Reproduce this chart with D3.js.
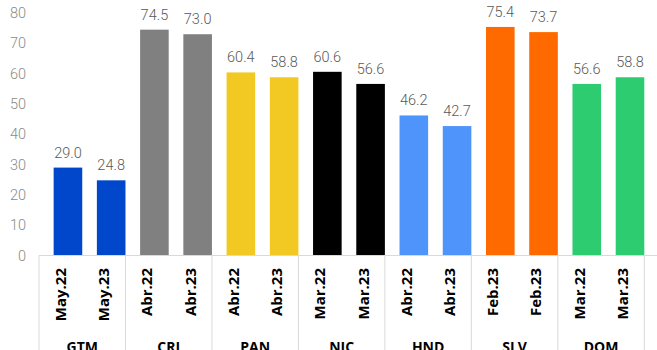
<!DOCTYPE html>
<html>
<head>
<meta charset="utf-8">
<script src="https://cdn.jsdelivr.net/npm/d3@7"></script>
<style>
  body { margin: 0; background: #fff; }
  svg { display: block; }
</style>
</head>
<body>
<svg id="chart" width="657" height="350"></svg>
<script>
// countries and their two periods
var groups = ["GTM", "CRI", "PAN", "NIC", "HND", "SLV", "DOM"];
var periods = ["May.22", "May.23", "Abr.22", "Abr.23", "Abr.22", "Abr.23", "Mar.22", "Mar.23",
               "Abr.22", "Abr.23", "Feb.23", "Feb.23", "Mar.22", "Mar.23"];
var values = [29.0, 24.8, 74.5, 73.0, 60.4, 58.8, 60.6, 56.6, 46.2, 42.7, 75.4, 73.7, 56.6, 58.8];
var groupColors = ["#0047cc", "#808080", "#f2c922", "#000000", "#4f94fa", "#ff6a00", "#2ecc71"];
var yTicks = [0, 10, 20, 30, 40, 50, 60, 70, 80];

var svg = d3.select("#chart");

var y = d3.scaleLinear().domain([0, 80]).range([255.5, 13]);

// table of the category axis sits 14px left of the bars
var idx = d3.range(values.length);
var x = d3.scaleBand().domain(idx).range([39, 644.3]).padding(0);
var bw = x.bandwidth();
var barW = 28.6;
var barOff = bw - barW;

var gx = d3.scaleBand().domain(groups).range([39, 644.3]).padding(0);

// y axis labels
svg.append("g").selectAll("text").data(yTicks).enter()
    .append("text")
    .attr("x", 26)
    .attr("y", function(d){ return y(d); })
    .attr("dy", "0.35em")
    .attr("text-anchor", "end")
    .attr("font-family", "Roboto")
    .attr("font-weight", 300)
    .attr("font-size", 14.5)
    .attr("fill", "#8a8a8a")
    .text(function(d){ return d; });

// bars
svg.append("g").selectAll("rect").data(idx).enter()
    .append("rect")
    .attr("x", function(i){ return x(i) + barOff; })
    .attr("y", function(i){ return y(values[i]); })
    .attr("width", barW)
    .attr("height", function(i){ return y(0) - y(values[i]); })
    .attr("fill", function(i){ return groupColors[Math.floor(i / 2)]; });

// value labels
svg.append("g").selectAll("text").data(idx).enter()
    .append("text")
    .attr("x", function(i){ return x(i) + barOff + barW / 2; })
    .attr("y", function(i){ return y(values[i]) - 10; })
    .attr("text-anchor", "middle")
    .attr("font-family", "Roboto")
    .attr("font-weight", 300)
    .attr("font-size", 14.5)
    .attr("fill", "#595959")
    .text(function(i){ return values[i].toFixed(1); });

// category table lines
var lineColor = "#d9d9d9";
svg.append("line")
    .attr("x1", 39).attr("x2", 657)
    .attr("y1", y(0)).attr("y2", y(0))
    .attr("stroke", lineColor).attr("stroke-width", 1);

svg.append("g").selectAll("line").data(groups.concat(["end"])).enter()
    .append("line")
    .attr("x1", function(d, i){ return 39 + i * gx.bandwidth(); })
    .attr("x2", function(d, i){ return 39 + i * gx.bandwidth(); })
    .attr("y1", y(0))
    .attr("y2", 350)
    .attr("stroke", lineColor).attr("stroke-width", 1);

// period labels, rotated
svg.append("g").selectAll("text").data(idx).enter()
    .append("text")
    .attr("transform", function(i){
        return "translate(" + (x(i) + bw / 2) + ",268) rotate(-90)";
    })
    .attr("dy", "0.35em")
    .attr("text-anchor", "end")
    .attr("font-family", "Open Sans")
    .attr("font-weight", 700)
    .attr("font-size", 15)
    .attr("fill", "#000")
    .text(function(i){ return periods[i]; });

// country labels
svg.append("g").selectAll("text").data(groups).enter()
    .append("text")
    .attr("x", function(d){ return gx(d) + gx.bandwidth() / 2; })
    .attr("y", 352)
    .attr("text-anchor", "middle")
    .attr("font-family", "Open Sans")
    .attr("font-weight", 700)
    .attr("font-size", 14)
    .attr("fill", "#000")
    .text(function(d){ return d; });
</script>
</body>
</html>
